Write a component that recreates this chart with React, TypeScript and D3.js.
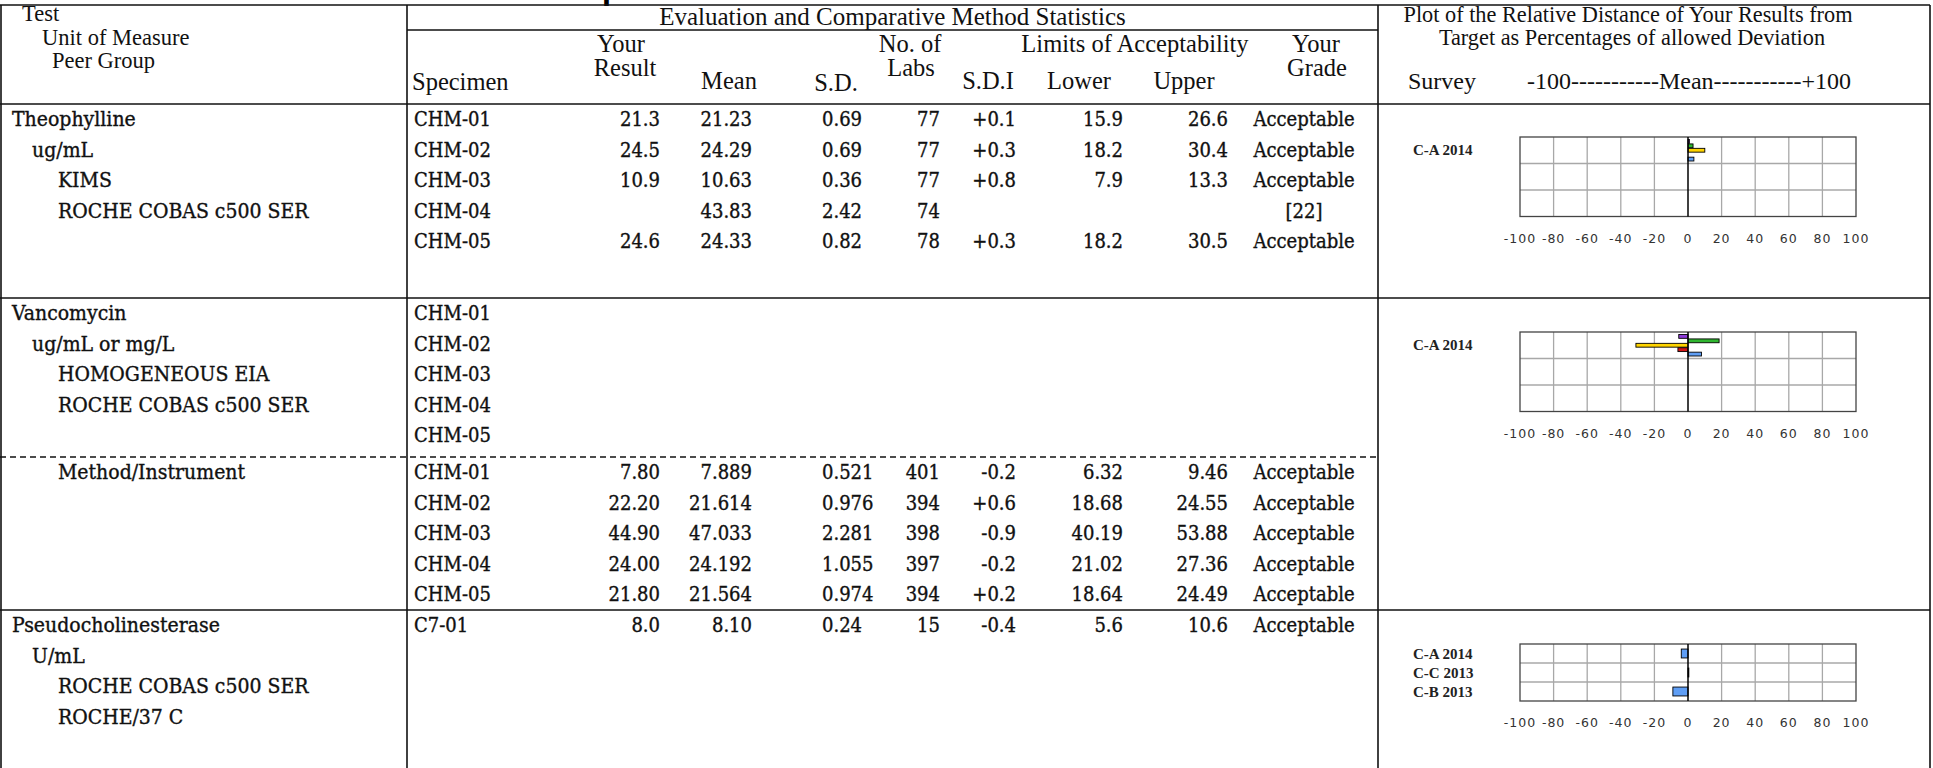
import React from "react";
import * as d3 from "d3";

// ---------- header texts ----------
const testHeader = ["Test", "Unit of Measure", "Peer Group"];
const statsTitle = "Evaluation and Comparative Method Statistics";
const plotTitle = ["Plot of the Relative Distance of Your Results from", "Target as Percentages of allowed Deviation"];
const plotSubHeader = ["Survey", "-100-----------Mean-----------+100"];

// ---------- Theophylline ----------
const theoLabels = ["Theophylline", "ug/mL", "KIMS", "ROCHE COBAS c500 SER"];
const theoSpec = ["CHM-01", "CHM-02", "CHM-03", "CHM-04", "CHM-05"];
const theoResult = ["21.3", "24.5", "10.9", "", "24.6"];
const theoMean = ["21.23", "24.29", "10.63", "43.83", "24.33"];
const theoSD = ["0.69", "0.69", "0.36", "2.42", "0.82"];
const theoLabs = ["77", "77", "77", "74", "78"];
const theoSDI = ["+0.1", "+0.3", "+0.8", "", "+0.3"];
const theoLower = ["15.9", "18.2", "7.9", "", "18.2"];
const theoUpper = ["26.6", "30.4", "13.3", "", "30.5"];
const theoGrade = ["Acceptable", "Acceptable", "Acceptable", "[22]", "Acceptable"];
const theoSurveys = ["C-A 2014"];
const theoPlot: (number | null)[][] = [[0.8, 3, 10, null, 3.5]];

// ---------- Vancomycin ----------
const vancoLabels = ["Vancomycin", "ug/mL or mg/L", "HOMOGENEOUS EIA", "ROCHE COBAS c500 SER"];
const vancoSpec = ["CHM-01", "CHM-02", "CHM-03", "CHM-04", "CHM-05"];
const vancoMethodLabel = "Method/Instrument";
const vancoMResult = ["7.80", "22.20", "44.90", "24.00", "21.80"];
const vancoMMean = ["7.889", "21.614", "47.033", "24.192", "21.564"];
const vancoMSD = ["0.521", "0.976", "2.281", "1.055", "0.974"];
const vancoMLabs = ["401", "394", "398", "397", "394"];
const vancoMSDI = ["-0.2", "+0.6", "-0.9", "-0.2", "+0.2"];
const vancoMLower = ["6.32", "18.68", "40.19", "21.02", "18.64"];
const vancoMUpper = ["9.46", "24.55", "53.88", "27.36", "24.49"];
const vancoMGrade = ["Acceptable", "Acceptable", "Acceptable", "Acceptable", "Acceptable"];
const vancoSurveys = ["C-A 2014"];
const vancoPlot: (number | null)[][] = [[-5.5, 18.5, -31, -6, 8]];

// ---------- Pseudocholinesterase ----------
const pseudoLabels = ["Pseudocholinesterase", "U/mL", "ROCHE COBAS c500 SER", "ROCHE/37 C"];
const pseudoSpec = ["C7-01"];
const pseudoResult = ["8.0"];
const pseudoMean = ["8.10"];
const pseudoSD = ["0.24"];
const pseudoLabs = ["15"];
const pseudoSDI = ["-0.4"];
const pseudoLower = ["5.6"];
const pseudoUpper = ["10.6"];
const pseudoGrade = ["Acceptable"];
const pseudoSurveys = ["C-A 2014", "C-C 2013", "C-B 2013"];
const pseudoPlot: (number | null)[][] = [[-4], [0.5], [-9]];

// ---------- axis ----------
const axisTicks = [-100, -80, -60, -40, -20, 0, 20, 40, 60, 80, 100];

const specColor: Record<string, string> = {
  "CHM-01": "#8c3ad6",
  "CHM-02": "#2fb52f",
  "CHM-03": "#ffd400",
  "CHM-04": "#d01515",
  "CHM-05": "#5f9ef5",
  "C7-01": "#5f9ef5",
};

const headFont = "'Liberation Serif', 'Times New Roman', serif";
const dataFont = "'DejaVu Serif Condensed', 'DejaVu Serif', serif";
const ink = "#111";

const ROW_H = 30.5;
const ROW_OFF = 15;
const BASE_OFF = 7;

const x = d3.scaleLinear().domain([-100, 100]).range([1520, 1856]);

type StatsProps = {
  top: number;
  spec: string[];
  result?: string[];
  mean?: string[];
  sd?: string[];
  labs?: string[];
  sdi?: string[];
  lower?: string[];
  upper?: string[];
  grade?: string[];
};

const dataStyle = { fontFamily: dataFont, fontStretch: "condensed" as const };

function StatsRows(p: StatsProps) {
  const y = (i: number) => p.top + ROW_OFF + i * ROW_H + BASE_OFF;
  const cols: { arr?: string[]; x: number; anchor: string }[] = [
    { arr: p.result, x: 660, anchor: "end" },
    { arr: p.mean, x: 752, anchor: "end" },
    { arr: p.sd, x: 822, anchor: "start" },
    { arr: p.labs, x: 940, anchor: "end" },
    { arr: p.sdi, x: 1016, anchor: "end" },
    { arr: p.lower, x: 1123, anchor: "end" },
    { arr: p.upper, x: 1228, anchor: "end" },
    { arr: p.grade, x: 1304, anchor: "middle" },
  ];
  return (
    <g fontSize={20} fill={ink} stroke={ink} strokeWidth={0.35} style={dataStyle}>
      {p.spec.map((s, i) => (
        <text key={"s" + i} x={414} y={y(i)}>{s}</text>
      ))}
      {cols.map((c, ci) =>
        c.arr
          ? c.arr.map((v, i) => (
              <text key={ci + "-" + i} x={c.x} y={y(i)} textAnchor={c.anchor as any}>{v}</text>
            ))
          : null
      )}
    </g>
  );
}

function TestLabels({ top, labels, indentStart = 0 }: { top: number; labels: string[]; indentStart?: number }) {
  const indents = [12, 32, 58, 58];
  return (
    <g fontSize={21} fill={ink} stroke={ink} strokeWidth={0.35} style={dataStyle}>
      {labels.map((l, i) => (
        <text key={i} x={indents[Math.min(i + indentStart, 3)]} y={top + ROW_OFF + i * ROW_H + BASE_OFF}>{l}</text>
      ))}
    </g>
  );
}

function Plot({ top, surveys, values, spec, rowH }: { top: number; surveys: string[]; values: (number | null)[][]; spec: string[]; rowH: number }) {
  const nRows = 3;
  const yRow = d3.scaleBand<number>().domain(d3.range(nRows)).range([top, top + nRows * rowH]);
  const bottom = top + nRows * rowH;
  return (
    <g>
      <rect x={x(-100)} y={top} width={x(100) - x(-100)} height={nRows * rowH} fill="#fff" />
      {axisTicks.filter((t) => t > -100 && t < 100 && t !== 0).map((t) => (
        <line key={t} x1={x(t)} x2={x(t)} y1={top} y2={bottom} stroke="#a8a8a8" strokeWidth={1.3} />
      ))}
      {d3.range(1, nRows).map((r) => (
        <line key={r} x1={x(-100)} x2={x(100)} y1={yRow(r)!} y2={yRow(r)!} stroke="#a8a8a8" strokeWidth={1.3} />
      ))}
      <rect x={x(-100)} y={top} width={x(100) - x(-100)} height={nRows * rowH} fill="none" stroke="#444" strokeWidth={1.3} />
      {surveys.map((s, i) => {
        const r0 = yRow(i)!;
        const inner = d3.scaleBand<string>().domain(spec).range([r0, r0 + rowH]).paddingOuter(0.5).paddingInner(0);
        return (
          <g key={s + i}>
            <text x={1413} y={r0 + rowH / 2 + 5} fontSize={15} fontWeight="bold" fill="#222" style={{ fontFamily: headFont }}>{s}</text>
            {values[i].map((v, j) =>
              v === null ? null : (
                <rect
                  key={j}
                  x={x(Math.min(0, v))}
                  y={inner(spec[j])! + 0.3}
                  width={Math.abs(x(v) - x(0))}
                  height={inner.bandwidth() - 0.6}
                  fill={specColor[spec[j]]}
                  stroke="#000"
                  strokeWidth={0.9}
                />
              )
            )}
          </g>
        );
      })}
      <line x1={x(0)} x2={x(0)} y1={top} y2={bottom} stroke="#000" strokeWidth={1.5} />
      {axisTicks.map((t) => (
        <text key={t} x={x(t)} y={bottom + 26} textAnchor="middle" fontSize={12.5} fill="#333" letterSpacing={1} style={{ fontFamily: "'DejaVu Sans', sans-serif" }}>
          {String(t)}
        </text>
      ))}
    </g>
  );
}

export default function App() {
  const W = 1933;
  const H = 768;
  const hs = { fontFamily: headFont };
  const L = { stroke: "#111", strokeWidth: 1.6 };

  const sec1Top = 104;
  const sec2Top = 298;
  const dashY = 457;
  const sec3Top = 610;
  const divA = 407;
  const divB = 1378;
  const right = 1930;

  const colHeads: { t: string; x: number; y: number; a: string }[] = [
    { t: "Specimen", x: 412, y: 90, a: "start" },
    { t: "Your", x: 621, y: 52, a: "middle" },
    { t: "Result", x: 625, y: 76, a: "middle" },
    { t: "Mean", x: 729, y: 89, a: "middle" },
    { t: "S.D.", x: 836, y: 91, a: "middle" },
    { t: "No. of", x: 910, y: 52, a: "middle" },
    { t: "Labs", x: 911, y: 76, a: "middle" },
    { t: "S.D.I", x: 988, y: 89, a: "middle" },
    { t: "Limits of Acceptability", x: 1135, y: 52, a: "middle" },
    { t: "Lower", x: 1079, y: 89, a: "middle" },
    { t: "Upper", x: 1184, y: 89, a: "middle" },
    { t: "Your", x: 1316, y: 52, a: "middle" },
    { t: "Grade", x: 1317, y: 76, a: "middle" },
  ];

  return (
    <svg width={W} height={H} style={{ position: "absolute", left: 0, top: 0, background: "#fff" }}>
      <rect x={0} y={0} width={W} height={H} fill="#fff" />
      {/* cut-off title fragment above the page edge */}
      <text x={602} y={0} fontSize={26} fontWeight="bold" fill="#000" style={{ fontFamily: "'DejaVu Sans', sans-serif" }}>p</text>

      {/* table rules */}
      <line x1={0} x2={right} y1={5} y2={5} {...L} />
      <line x1={divA} x2={divB} y1={30} y2={30} {...L} />
      <line x1={0} x2={right} y1={sec1Top} y2={sec1Top} {...L} />
      <line x1={0} x2={right} y1={sec2Top} y2={sec2Top} {...L} />
      <line x1={0} x2={divB} y1={dashY} y2={dashY} stroke="#111" strokeWidth={1.6} strokeDasharray="6,4" />
      <line x1={0} x2={right} y1={sec3Top} y2={sec3Top} {...L} />
      <line x1={1} x2={1} y1={5} y2={H} {...L} />
      <line x1={divA} x2={divA} y1={5} y2={H} {...L} />
      <line x1={divB} x2={divB} y1={5} y2={H} {...L} />
      <line x1={right} x2={right} y1={5} y2={H} {...L} />

      {/* headers */}
      <g fill={ink} style={hs}>
        {testHeader.map((t, i) => (
          <text key={t} x={[22, 42, 52][i]} y={[21, 45, 68][i]} fontSize={22.5}>{t}</text>
        ))}
        <text x={(divA + divB) / 2} y={25} fontSize={25} textAnchor="middle">{statsTitle}</text>
        {colHeads.map((c, i) => (
          <text key={i} x={c.x} y={c.y} fontSize={24.5} textAnchor={c.a as any}>{c.t}</text>
        ))}
        <text x={1628} y={22} fontSize={22.3} textAnchor="middle">{plotTitle[0]}</text>
        <text x={1632} y={45} fontSize={22.3} textAnchor="middle">{plotTitle[1]}</text>
        <text x={1408} y={89} fontSize={24}>{plotSubHeader[0]}</text>
        <text x={1527} y={89} fontSize={24}>{plotSubHeader[1]}</text>
      </g>

      {/* Theophylline */}
      <TestLabels top={sec1Top} labels={theoLabels} />
      <StatsRows top={sec1Top} spec={theoSpec} result={theoResult} mean={theoMean} sd={theoSD} labs={theoLabs} sdi={theoSDI} lower={theoLower} upper={theoUpper} grade={theoGrade} />
      <Plot top={sec1Top + 33} surveys={theoSurveys} values={theoPlot} spec={theoSpec} rowH={26.5} />

      {/* Vancomycin */}
      <TestLabels top={sec2Top} labels={vancoLabels} />
      <StatsRows top={sec2Top} spec={vancoSpec} />
      <TestLabels top={dashY} labels={[vancoMethodLabel]} indentStart={2} />
      <StatsRows top={dashY} spec={vancoSpec} result={vancoMResult} mean={vancoMMean} sd={vancoMSD} labs={vancoMLabs} sdi={vancoMSDI} lower={vancoMLower} upper={vancoMUpper} grade={vancoMGrade} />
      <Plot top={sec2Top + 34} surveys={vancoSurveys} values={vancoPlot} spec={vancoSpec} rowH={26.5} />

      {/* Pseudocholinesterase */}
      <TestLabels top={sec3Top} labels={pseudoLabels} />
      <StatsRows top={sec3Top} spec={pseudoSpec} result={pseudoResult} mean={pseudoMean} sd={pseudoSD} labs={pseudoLabs} sdi={pseudoSDI} lower={pseudoLower} upper={pseudoUpper} grade={pseudoGrade} />
      <Plot top={sec3Top + 34} surveys={pseudoSurveys} values={pseudoPlot} spec={pseudoSpec} rowH={19} />
    </svg>
  );
}
